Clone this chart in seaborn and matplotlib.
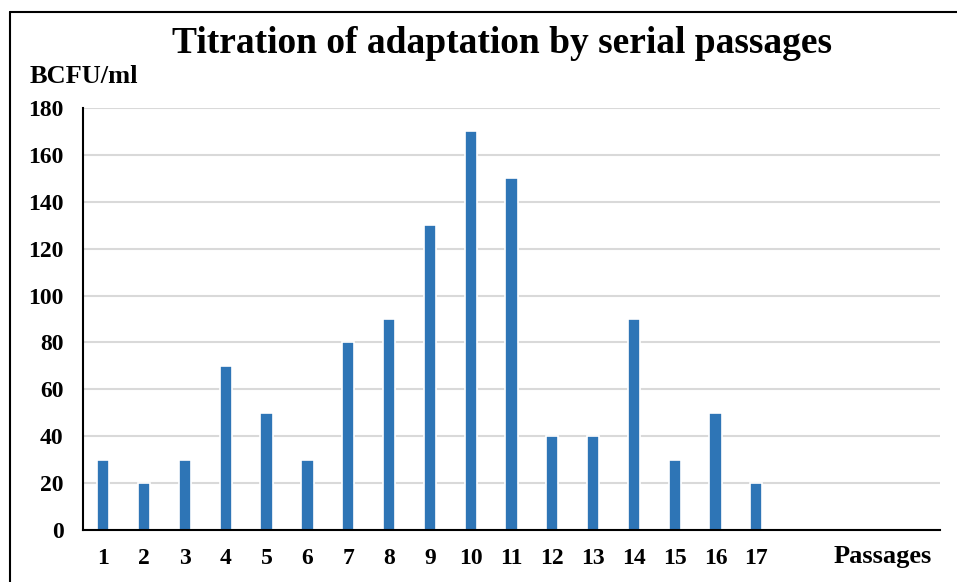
import pandas as pd
import matplotlib.pyplot as plt
import seaborn as sns
from matplotlib.lines import Line2D

# Data
passages = [str(i) for i in range(1, 22)]
bcfu = [30, 20, 30, 70, 50, 30, 80, 90, 130, 170, 150, 40, 40, 90, 30, 50, 20]
tick_labels = [str(i) for i in range(1, 18)] + [""] * 4
y_ticks = list(range(0, 181, 20))

df = pd.DataFrame({"passage": passages[:len(bcfu)], "bcfu": bcfu})

sns.set_style("white")
plt.rcParams['font.family'] = ['Liberation Serif', 'DejaVu Serif']
plt.rcParams['font.weight'] = 'bold'
plt.rcParams['text.color'] = 'black'
plt.rcParams['xtick.color'] = 'black'
plt.rcParams['ytick.color'] = 'black'

fig = plt.figure(figsize=(9.57, 5.82), dpi=100)
ax = fig.add_axes([0.0867, 0.0893, 0.8955, 0.7251])

sns.barplot(data=df, x="passage", y="bcfu", order=passages, color="#2E75B6",
            saturation=1, width=0.3, edgecolor='white', linewidth=1.2, ax=ax)

ax.set_ylim(0, 180)
ax.set_xlim(-0.5, len(passages) - 0.5)
ax.set_yticks(y_ticks)
ax.set_yticklabels([str(v) for v in y_ticks], fontsize=17, fontweight='bold')
ax.set_xticks(range(len(passages)))
ax.set_xticklabels(tick_labels, fontsize=17, fontweight='bold')
ax.tick_params(axis='both', length=0)
ax.tick_params(axis='x', pad=13)
ax.tick_params(axis='y', pad=14)
ax.set_xlabel("")
ax.set_ylabel("")

ax.grid(axis='y', color='#D9D9D9', linewidth=1.5)
ax.set_axisbelow(True)
for side in ['top', 'right']:
    ax.spines[side].set_visible(False)
ax.spines['left'].set_color('black')
ax.spines['bottom'].set_color('black')
ax.spines['left'].set_linewidth(1.5)
ax.spines['bottom'].set_linewidth(1.5)

fig.text(0.525, 0.926, "Titration of adaptation by serial passages",
         ha='center', va='center', fontsize=27, fontweight='bold')
fig.text(0.031, 0.868, "BCFU/ml", ha='left', va='center', fontsize=19, fontweight='bold')
fig.text(0.922, 0.043, "Passages", ha='center', va='center', fontsize=19, fontweight='bold')

# outer frame (left and top edges)
fig.add_artist(Line2D([0.0105, 0.0105], [0, 0.979], color='black', linewidth=1.5))
fig.add_artist(Line2D([0.0105, 1], [0.979, 0.979], color='black', linewidth=1.5))

fig.savefig("out.png", dpi=100)
